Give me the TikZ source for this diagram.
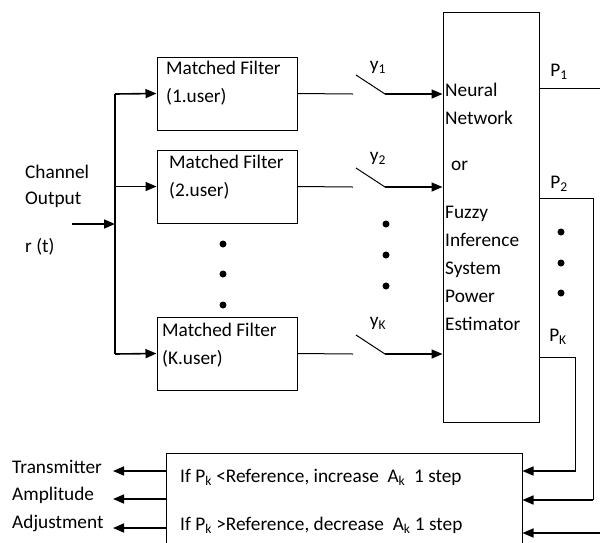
\documentclass[tikz,border=0pt]{standalone}
\usepackage{fontspec}
\setmainfont{Carlito}
\usetikzlibrary{arrows.meta}

\begin{document}
\begin{tikzpicture}[x=1pt, y=-1pt, font=\fontsize{19.3}{28}\selectfont,
    mfbox/.style={draw, line width=1pt, minimum width=140pt, minimum height=73pt, inner sep=0pt},
    txt/.style={inner sep=0pt, align=left, anchor=west},
    dot/.style={circle, fill, inner sep=0pt, minimum size=7pt},
    sig/.style={line width=1.6pt, -{Triangle[length=11pt,width=9pt]}},
    wire/.style={line width=1pt}]
  \clip (0,0) rectangle (600,542);

  % matched filters
  \node[mfbox] (mf1) at (227,93.5) {};
  \node[mfbox] (mf2) at (227,186.5) {};
  \node[mfbox] (mfK) at (227,353.5) {};
  \node[txt] (mf1t) at (166,83.5) {Matched Filter\\(1.user)};
  \node[txt] (mf2t) at (169,177) {Matched Filter\\(2.user)};
  \node[txt] (mfKt) at (162,345.5) {Matched Filter\\(K.user)};
  \node[dot] (d1) at (223,244) {};
  \node[dot] (d2) at (223,274) {};
  \node[dot] (d3) at (223,305) {};

  % input
  \node[txt] (chan) at (25,172) {Channel};
  \node[txt] (outp) at (25,200) {Output};
  \node[txt] (rt) at (25,247) {r (t)};
  \coordinate (in) at (72,224);
  \coordinate (bus1) at (115,94);
  \coordinate (busK) at (115,354);
  \draw[sig] (in) -- (in -| bus1);
  \draw[line width=1.6pt] (bus1) -- (busK);
  \draw[sig] (bus1) -- (mf1.west);
  \draw[sig] (bus1 |- mf2.west) -- (mf2.west);
  \draw[sig] (busK) -- (mfK.west);

  % estimator
  \node[draw, line width=1pt, minimum width=96pt, minimum height=410pt, inner sep=0pt] (nn) at (491,217) {};
  \node[txt] (nnt1) at (445,103.5) {Neural\\Network};
  \node[txt] (nnt2) at (451,166) {or};
  \node[txt] (nnt3) at (445,268) {Fuzzy\\Inference\\System\\Power\\Estimator};

  % switches
  \coordinate (s1a) at (353,94);  \coordinate (s1b) at (356,75);  \coordinate (s1c) at (385,94);
  \coordinate (s2a) at (353,187); \coordinate (s2b) at (356,168); \coordinate (s2c) at (385,187);
  \coordinate (sKa) at (353,354); \coordinate (sKb) at (356,335); \coordinate (sKc) at (385,354);
  \draw[wire] (mf1.east) -- (s1a);
  \draw[wire] (mf2.east) -- (s2a);
  \draw[wire] (mfK.east) -- (sKa);
  \draw[wire] (s1b) -- (s1c);
  \draw[wire] (s2b) -- (s2c);
  \draw[wire] (sKb) -- (sKc);
  \draw[sig] (s1c) -- (s1c -| nn.west);
  \draw[sig] (s2c) -- (s2c -| nn.west);
  \draw[sig] (sKc) -- (sKc -| nn.west);
  \node (y1) at (378,67) {y\textsubscript{1}};
  \node (y2) at (378,158) {y\textsubscript{2}};
  \node (yK) at (378,323) {y\textsubscript{K}};
  \node[dot] (d4) at (386,224) {};
  \node[dot] (d5) at (386,255) {};
  \node[dot] (d6) at (386,286) {};

  % control block
  \node[draw, line width=1pt, minimum width=356pt, minimum height=120pt, inner sep=0pt] (ctl) at (344,513) {};
  \node[txt] (ctl1) at (180,477) {If P\textsubscript{k} <Reference, increase\ \ A\textsubscript{k}\ \ 1 step};
  \node[txt] (ctl2) at (180,525) {If P\textsubscript{k} >Reference, decrease\ \ A\textsubscript{k} 1 step};

  % outputs
  \node (p1) at (559,72) {P\textsubscript{1}};
  \node (p2) at (559,184) {P\textsubscript{2}};
  \node (pK) at (558,337) {P\textsubscript{K}};
  \node[dot] (d7) at (561,232) {};
  \node[dot] (d8) at (561,263) {};
  \node[dot] (d9) at (561,293) {};
  \coordinate (o1) at (600,88);
  \coordinate (o2) at (593,198);
  \coordinate (oK) at (575,357);
  \coordinate (o3) at (600,533);
  \draw[wire] (o1 -| nn.east) -- (o1);
  \draw[wire] (o2 -| nn.east) -- (o2) -- (593,500);
  \draw[sig] (593,500) -- (593,500 -| ctl.east);
  \draw[wire] (oK -| nn.east) -- (oK) -- (575,472);
  \draw[sig] (575,471) -- (575,471 -| ctl.east);
  \draw[sig] (o3) -- (o3 -| ctl.east);

  % feedback to transmitter
  \coordinate (t1) at (113,471);
  \coordinate (t2) at (113,499);
  \coordinate (t3) at (113,528);
  \draw[sig] (t1 -| ctl.west) -- (t1);
  \draw[sig] (t2 -| ctl.west) -- (t2);
  \draw[sig] (t3 -| ctl.west) -- (t3);
  \node[txt] (tr1) at (12,467) {Transmitter};
  \node[txt] (tr2) at (12,495) {Amplitude};
  \node[txt] (tr3) at (12,523) {Adjustment};
\end{tikzpicture}
\end{document}
